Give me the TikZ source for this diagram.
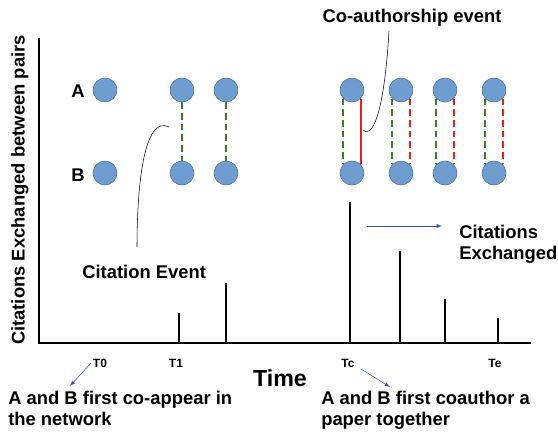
\documentclass[tikz,border=0pt]{standalone}
\usepackage{fontspec}
\setmainfont{Liberation Sans}
\usetikzlibrary{calc}
\definecolor{dotfill}{RGB}{112,157,207}
\definecolor{dotline}{RGB}{72,108,160}
\definecolor{citegreen}{RGB}{64,125,40}
\definecolor{coauthred}{RGB}{235,30,30}
\definecolor{notearrow}{RGB}{50,88,155}
\newcommand{\lblfont}{\bfseries\fontsize{13.8}{15.5}\selectfont}
\begin{document}
\begin{tikzpicture}[x=0.75pt,y=-0.75pt]
        \tikzstyle{dot}=[draw=dotline,fill=dotfill,circle,minimum size=18pt,inner sep=0pt]
        \tikzstyle{lbl}=[font=\lblfont,inner sep=0pt]
        \tikzstyle{tick}=[font=\bfseries\fontsize{9}{10}\selectfont,inner sep=0pt]
        \tikzstyle{cite}=[citegreen,line width=1.4pt,dash pattern=on 5pt off 3pt]
        \tikzstyle{coauth}=[coauthred,line width=1.4pt]
        \tikzstyle{note}=[notearrow,-latex]
        \useasboundingbox (0,0) rectangle (558,433);

        % axes
        \coordinate (o) at (39,343);
        \draw[line width=1.3pt] (39,38) -- (o) -- (531,343);
        \node[lbl,rotate=90] (ylab) at (20,190) {Citations Exchanged between pairs};

        % pairs
        \node[lbl] (la) at (78,91) {A};
        \node[lbl] (lb) at (78,175) {B};
        \foreach \i/\x in {1/105,2/182,3/226,4/352,5/401,6/445,7/494} {
            \node[dot] (a\i) at (\x,90) {};
            \node[dot] (b\i) at (\x,173) {};
        }
        \draw[cite] (a2) -- (b2);
        \draw[cite] (a3) -- (b3);
        \foreach \i in {4,5,6,7}
            \draw[cite] (a\i.-135) -- (b\i.135);
        \draw[coauth] (a4.-45) -- (b4.45);
        \foreach \i in {5,6,7}
            \draw[coauth,dash pattern=on 5pt off 3pt] (a\i.-45) -- (b\i.45);

        % spikes
        \foreach \x/\h in {179/313,226/283,350/202,400/251,445/299,498/318}
            \draw[line width=1.3pt] (\x,343) -- (\x,\h);

        % ticks
        \node[tick] (t0) at (100,363) {T0};
        \node[tick] (t1) at (176,363) {T1};
        \node[tick] (tc) at (348,363) {Tc};
        \node[tick] (te) at (495,363) {Te};
        \node[lbl,font=\bfseries\fontsize{17.4}{19}\selectfont] (time) at (280,378) {Time};

        % notes
        \node[lbl,anchor=west] (cite) at (82,272) {Citation Event};
        \node[lbl] (coev) at (412,18) {Co-authorship event};
        \node[lbl,anchor=north west,align=left] (exch) at (459,225) {Citations\\Exchanged};
        \node[lbl,anchor=north west,align=left] (first) at (8,391) {A and B first co-appear in\\the network};
        \node[lbl,anchor=north west,align=left] (coau) at (321,391) {A and B first coauthor a\\paper together};

        \coordinate (c1) at (137,247);
        \coordinate (c2) at (169,127);
        \draw (c1) .. controls (137,180) and (145,115) .. (c2);
        \coordinate (c3) at (389,31);
        \coordinate (c4) at (363,130);
        \draw (c3) .. controls (385,100) and (375,140) .. (c4);

        \coordinate (n1) at (91,363);
        \coordinate (n2) at (70,386);
        \draw[note] (n1) -- (n2);
        \coordinate (n3) at (361,369);
        \coordinate (n4) at (390,387);
        \draw[note] (n3) -- (n4);
        \coordinate (n5) at (367,226);
        \coordinate (n6) at (442,226);
        \draw[note] (n5) -- (n6);
    \end{tikzpicture}
\end{document}
